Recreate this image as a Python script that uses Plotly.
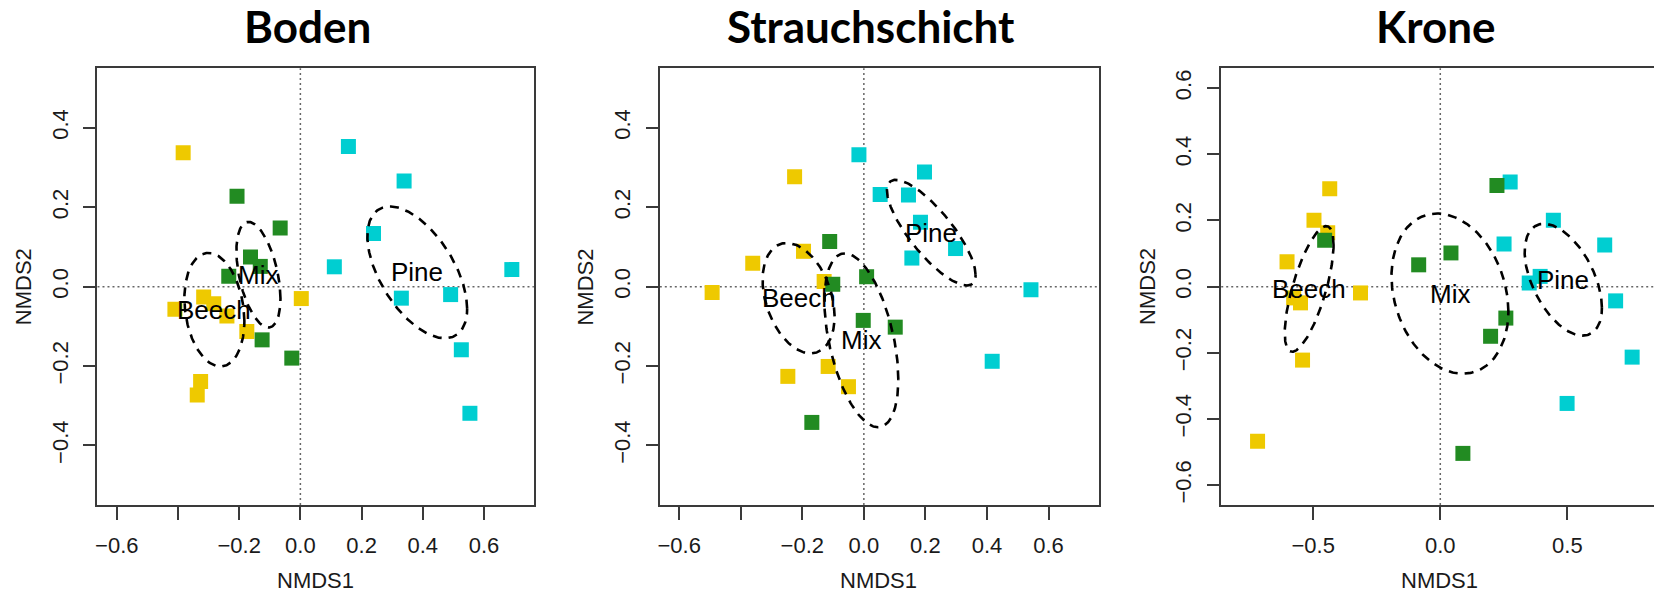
import numpy as np
import plotly.graph_objects as go

# ---------------- data ----------------
panel_titles = ["Boden", "Strauchschicht", "Krone"]
groups = ["Beech", "Mix", "Pine"]
group_colors = {"Beech": "#EEC900", "Mix": "#228B22", "Pine": "#00CED1"}

# Boden
boden_beech_x = [-0.383, -0.410, -0.316, -0.283, -0.240, -0.175, 0.003, -0.326, -0.337]
boden_beech_y = [0.337, -0.057, -0.026, -0.043, -0.074, -0.113, -0.030, -0.239, -0.273]
boden_mix_x = [-0.207, -0.066, -0.163, -0.131, -0.234, -0.125, -0.028]
boden_mix_y = [0.228, 0.148, 0.075, 0.051, 0.026, -0.134, -0.180]
boden_pine_x = [0.157, 0.339, 0.239, 0.111, 0.330, 0.491, 0.526, 0.554, 0.691]
boden_pine_y = [0.353, 0.266, 0.134, 0.050, -0.029, -0.020, -0.159, -0.319, 0.043]

# Strauchschicht
strauch_beech_x = [-0.225, -0.361, -0.493, -0.196, -0.129, -0.116, -0.247, -0.050]
strauch_beech_y = [0.277, 0.059, -0.015, 0.089, 0.013, -0.201, -0.226, -0.252]
strauch_mix_x = [-0.111, -0.101, 0.009, -0.002, 0.102, -0.169]
strauch_mix_y = [0.114, 0.006, 0.025, -0.085, -0.102, -0.342]
strauch_pine_x = [-0.016, 0.197, 0.053, 0.145, 0.184, 0.156, 0.298, 0.543, 0.417]
strauch_pine_y = [0.332, 0.289, 0.232, 0.231, 0.162, 0.072, 0.096, -0.008, -0.188]

# Krone
krone_beech_x = [-0.435, -0.497, -0.443, -0.603, -0.314, -0.577, -0.550, -0.542, -0.719]
krone_beech_y = [0.296, 0.201, 0.163, 0.075, -0.019, -0.034, -0.049, -0.222, -0.467]
krone_mix_x = [-0.455, 0.223, -0.085, 0.042, 0.258, 0.198, 0.089]
krone_mix_y = [0.140, 0.306, 0.066, 0.102, -0.095, -0.150, -0.504]
krone_pine_x = [0.275, 0.251, 0.445, 0.647, 0.350, 0.393, 0.690, 0.755, 0.499]
krone_pine_y = [0.316, 0.129, 0.201, 0.126, 0.011, 0.031, -0.043, -0.213, -0.353]

# ellipse parameters per panel: centre x, centre y, half-extent x, half-extent y, correlation
boden_ell_cx = [-0.281, -0.137, 0.382]
boden_ell_cy = [-0.058, 0.030, 0.036]
boden_ell_hx = [0.098, 0.072, 0.163]
boden_ell_hy = [0.143, 0.133, 0.166]
boden_ell_r = [-0.20, -0.45, -0.55]

strauch_ell_cx = [-0.212, -0.008, 0.219]
strauch_ell_cy = [-0.029, -0.135, 0.136]
strauch_ell_hx = [0.117, 0.120, 0.144]
strauch_ell_hy = [0.139, 0.219, 0.133]
strauch_ell_r = [-0.33, -0.45, -0.80]

krone_ell_cx = [-0.516, 0.038, 0.484]
krone_ell_cy = [-0.007, -0.021, 0.021]
krone_ell_hx = [0.096, 0.230, 0.152]
krone_ell_hy = [0.190, 0.242, 0.169]
krone_ell_r = [0.70, -0.22, -0.50]

# ticks
x_ticks_12 = [-0.6, -0.4, -0.2, 0.0, 0.2, 0.4, 0.6]
x_ticktext_12 = ["\u22120.6", "", "\u22120.2", "0.0", "0.2", "0.4", "0.6"]
y_ticks_12 = [-0.4, -0.2, 0.0, 0.2, 0.4]
y_ticktext_12 = ["\u22120.4", "\u22120.2", "0.0", "0.2", "0.4"]
x_ticks_3 = [-0.5, 0.0, 0.5]
x_ticktext_3 = ["\u22120.5", "0.0", "0.5"]
y_ticks_3 = [-0.6, -0.4, -0.2, 0.0, 0.2, 0.4, 0.6]
y_ticktext_3 = ["\u22120.6", "\u22120.4", "\u22120.2", "0.0", "0.2", "0.4", "0.6"]

# ---------------- layout geometry (pixels) ----------------
W, H = 1654, 592
box_left = [95.6, 658.6, 1220.7]
box_right = [532.5, 1098.0, 1654.0]
box_top, box_bottom = 68.3, 505.0
x_ranges = [[-0.663, 0.763], [-0.663, 0.763], [-0.862, 0.841]]
y_ranges = [[-0.55, 0.55], [-0.55, 0.55], [-0.66, 0.66]]
title_cx = [306, 870, 1436]
xlab_cx = [314, 878, 1439]


def ellipse(cx, cy, hx, hy, r, n=240):
    t = np.linspace(0, 2 * np.pi, n)
    ex = cx + hx * np.cos(t)
    ey = cy + hy * (r * np.cos(t) + np.sqrt(1 - r * r) * np.sin(t))
    return ex, ey


panels = [
    dict(pts={"Beech": (boden_beech_x, boden_beech_y), "Mix": (boden_mix_x, boden_mix_y),
              "Pine": (boden_pine_x, boden_pine_y)},
         ell=(boden_ell_cx, boden_ell_cy, boden_ell_hx, boden_ell_hy, boden_ell_r)),
    dict(pts={"Beech": (strauch_beech_x, strauch_beech_y), "Mix": (strauch_mix_x, strauch_mix_y),
              "Pine": (strauch_pine_x, strauch_pine_y)},
         ell=(strauch_ell_cx, strauch_ell_cy, strauch_ell_hx, strauch_ell_hy, strauch_ell_r)),
    dict(pts={"Beech": (krone_beech_x, krone_beech_y), "Mix": (krone_mix_x, krone_mix_y),
              "Pine": (krone_pine_x, krone_pine_y)},
         ell=(krone_ell_cx, krone_ell_cy, krone_ell_hx, krone_ell_hy, krone_ell_r)),
]

fig = go.Figure()
annotations = []
shapes = []
axis_color = "#3a3a3a"
tick_font = dict(family="Liberation Sans, Arial, sans-serif", size=22, color="#1a1a1a")

for i, p in enumerate(panels):
    sx = "" if i == 0 else str(i + 1)
    xa, ya = "x" + sx, "y" + sx
    # points: beech, pine, then mix on top
    for g in ["Beech", "Pine", "Mix"]:
        px, py = p["pts"][g]
        fig.add_trace(go.Scatter(x=px, y=py, mode="markers", xaxis=xa, yaxis=ya,
                                 marker=dict(symbol="square", size=15, color=group_colors[g],
                                             line=dict(width=0)),
                                 showlegend=False, hoverinfo="skip"))
    cxs, cys, hxs, hys, rs = p["ell"]
    for k, g in enumerate(groups):
        ex, ey = ellipse(cxs[k], cys[k], hxs[k], hys[k], rs[k])
        fig.add_trace(go.Scatter(x=ex, y=ey, mode="lines", xaxis=xa, yaxis=ya,
                                 line=dict(color="black", width=2.6, dash="9px,7px"),
                                 showlegend=False, hoverinfo="skip"))
        annotations.append(dict(x=cxs[k], y=cys[k], xref=xa, yref=ya, text=g, showarrow=False,
                                xanchor="center", yanchor="middle",
                                font=dict(family="Liberation Sans, Arial, sans-serif", size=26,
                                          color="black")))
    # dotted zero lines
    shapes.append(dict(type="line", xref=xa + " domain", yref=ya, x0=0, x1=1, y0=0, y1=0,
                       line=dict(color="#666666", width=1.5, dash="2px,3px"), layer="below"))
    shapes.append(dict(type="line", xref=xa, yref=ya + " domain", x0=0, x1=0, y0=0, y1=1,
                       line=dict(color="#666666", width=1.5, dash="2px,3px"), layer="below"))

    if i < 2:
        xt, xtt, yt, ytt = x_ticks_12, x_ticktext_12, y_ticks_12, y_ticktext_12
    else:
        xt, xtt, yt, ytt = x_ticks_3, x_ticktext_3, y_ticks_3, y_ticktext_3

    xaxis = dict(domain=[box_left[i] / W, box_right[i] / W], anchor=ya, range=x_ranges[i],
                 showgrid=False, zeroline=False, showline=True, linecolor=axis_color, linewidth=2,
                 mirror=True, ticks="outside", ticklen=13, tickwidth=2, tickcolor=axis_color,
                 tickvals=xt, ticktext=xtt, tickfont=tick_font, ticklabelstandoff=7)
    yaxis = dict(domain=[1 - box_bottom / H, 1 - box_top / H], anchor=xa, range=y_ranges[i],
                 showgrid=False, zeroline=False, showline=True, linecolor=axis_color, linewidth=2,
                 mirror=(i < 2), ticks="outside", ticklen=12, tickwidth=2, tickcolor=axis_color,
                 tickvals=yt, ticktext=ytt, tickfont=tick_font, tickangle=-90,
                 ticklabelstandoff=7)
    fig.update_layout(**{"xaxis" + sx: xaxis, "yaxis" + sx: yaxis})

    # panel title
    annotations.append(dict(x=title_cx[i] / W, y=1 - 26 / H, xref="paper", yref="paper",
                            text=panel_titles[i], showarrow=False, xanchor="center",
                            yanchor="middle",
                            font=dict(family="Lato, sans-serif", size=44, weight="bold",
                                      color="black")))
    # axis labels
    annotations.append(dict(x=xlab_cx[i] / W, y=1 - 580 / H, xref="paper", yref="paper",
                            text="NMDS1", showarrow=False, xanchor="center", yanchor="middle",
                            font=dict(family="Liberation Sans, Arial, sans-serif", size=22,
                                      color="#1a1a1a")))
    annotations.append(dict(x=(box_left[i] - 74) / W, y=1 - ((box_top + box_bottom) / 2) / H,
                            xref="paper", yref="paper", text="NMDS2", showarrow=False,
                            textangle=-90, xanchor="center", yanchor="middle",
                            font=dict(family="Liberation Sans, Arial, sans-serif", size=22,
                                      color="#1a1a1a")))

fig.update_layout(width=W, height=H, margin=dict(l=0, r=0, t=0, b=0),
                  paper_bgcolor="white", plot_bgcolor="white",
                  annotations=annotations, shapes=shapes, showlegend=False)

fig.write_html("out.html")
